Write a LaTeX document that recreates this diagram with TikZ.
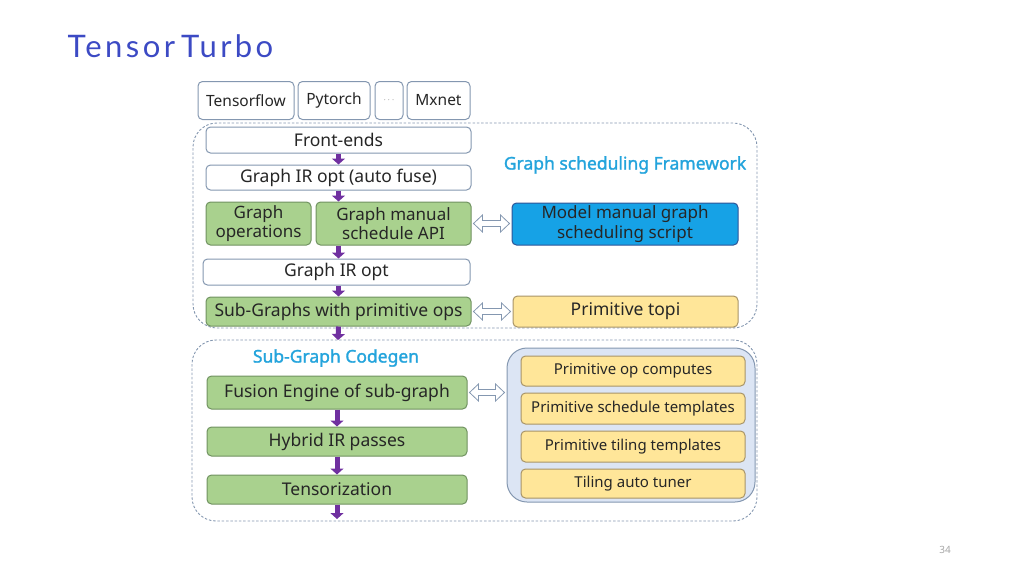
\documentclass[tikz,border=0pt]{standalone}
\usepackage{fontspec}
\setmainfont[AutoFakeBold=1.6]{Noto Sans}
\newfontfamily\titlefont[LetterSpace=11]{Lato}
\usetikzlibrary{arrows.meta,calc,positioning}
\definecolor{edgegray}{RGB}{132,151,176}
\definecolor{opgreen}{RGB}{169,209,142}
\definecolor{opgreenline}{RGB}{112,146,96}
\definecolor{scriptblue}{RGB}{22,162,230}
\definecolor{scriptline}{RGB}{47,85,151}
\definecolor{topiyellow}{RGB}{255,230,153}
\definecolor{topiline}{RGB}{168,148,104}
\definecolor{libblue}{RGB}{220,229,244}
\definecolor{titleblue}{RGB}{60,74,196}
\definecolor{labelcyan}{RGB}{36,164,220}
\definecolor{flowpurple}{RGB}{112,48,160}
\definecolor{textgray}{RGB}{38,38,38}
\tikzset{every picture/.style={
  >=Latex                       % LaTeX style arrows.
  }
}

\begin{document}
\begin{tikzpicture}[
    x=1pt,y=-1pt,
    font=\fontsize{17.5}{19}\selectfont,
    wh/.style 2 args={minimum width=#1pt,minimum height=#2pt},
    box/.style={
      draw=edgegray,
      line width=1pt,
      rounded corners=4.5pt,
      fill=white,
      text=textgray,
      inner sep=0pt,
      align=center
    },
    op/.style={box,fill=opgreen,draw=opgreenline},
    prim/.style={box,fill=topiyellow,draw=topiline},
    frame/.style={
      draw=edgegray,
      line width=0.9pt,
      dash pattern=on 2.5pt off 1.8pt,
      rounded corners=24pt,
      inner sep=0pt
    },
    heading/.style={
      text=labelcyan,
      font=\fontsize{17.5}{19}\selectfont\bfseries
    },
    flow/.style={
      draw=flowpurple,
      line width=5pt,
      -{Triangle[width=13pt,length=6pt]}
    },
    % hollow two-headed arrow from node to node
    link/.style={
      draw=edgegray,
      fill=white,
      line width=0.8pt,
      to path={
        let \p1=(\tikztostart), \p2=(\tikztotarget) in
        (\x1+2,\y1) -- (\x1+11,\y1+8.5) -- (\x1+11,\y1+3) --
        (\x2-11,\y1+3) -- (\x2-11,\y1+8.5) -- (\x2-2,\y1) --
        (\x2-11,\y1-8.5) -- (\x2-11,\y1-3) -- (\x1+11,\y1-3) --
        (\x1+11,\y1-8.5) -- cycle
      }
    }]

    % Helper macro.
    \def\flowto#1#2{\draw[flow] (#1) -- (#2);}

    \useasboundingbox (0,0) rectangle (1024,574);

    % Title.
    \node[anchor=west,text=titleblue,font=\titlefont\fontsize{31}{34}\selectfont]
      (title) at (64,46) {Tensor\hspace{6pt}Turbo};

    % Dashed frames (drawn first, under the boxes).
    \node[frame,wh={564}{205}] (gframe) at (475,225.5) {};
    \node[frame,wh={565}{181}] (cframe) at (474.5,430.5) {};

    % Frameworks on top.
    \begin{scope}[font=\fontsize{15.5}{17}\selectfont]
      \node[box,wh={96}{38}] (tf) at (246,100.5) {Tensorflow};
      \node[box,wh={72}{38}] (pt) at (334,100.5) {Pytorch};
      \node[box,wh={28}{38},text=black!60,font=\fontsize{9}{10}\selectfont]
        (dots) at (389,100.5) {$\cdots$};
      \node[box,wh={63}{38}] (mx) at (438.5,100.5) {Mxnet};
    \end{scope}

    % Graph scheduling framework.
    \node[heading] (gsf) at (625,165) {Graph scheduling Framework};
    \node[box,wh={265}{26}] (fe) at (338.5,140) {Front-ends};
    \node[box,wh={265}{25}] (irfuse) at (338.5,177.5) {Graph IR opt (auto fuse)};
    \node[op,wh={105}{43},font=\fontsize{17}{19.5}\selectfont]
      (gops) at (258.5,223.5) {Graph\\operations};
    \node[op,wh={155}{43},font=\fontsize{17}{19.5}\selectfont]
      (gapi) at (393.5,223.5) {Graph manual\\schedule API};
    \node[box,wh={267}{26}] (irmid) at (336.5,272) {Graph IR opt};
    \node[op,wh={265}{29}] (subg) at (338.5,311.5) {Sub-Graphs with primitive ops};
    \node[box,fill=scriptblue,draw=scriptline,wh={226}{42},
      font=\fontsize{17}{19.5}\selectfont] (script) at (625,224)
      {Model manual graph\\scheduling script};
    \node[prim,wh={225}{31}] (topi) at (625.5,311.5) {Primitive topi};

    % Sub-graph codegen.
    \node[heading] (sgc) at (336,358) {Sub-Graph Codegen};
    \node[op,wh={260}{33}] (fusion) at (337,392.5) {Fusion Engine of sub-graph};
    \node[op,wh={260}{29}] (hybrid) at (337,441.5) {Hybrid IR passes};
    \node[op,wh={260}{29}] (tensor) at (337,489.5) {Tensorization};

    % Library of primitives.
    \node[box,fill=libblue,rounded corners=20pt,wh={248}{154}] (lib) at (631,425) {};
    \begin{scope}[font=\fontsize{15}{17}\selectfont]
      \node[prim,wh={224}{30}] (pcomp) at (633,371) {Primitive op computes};
      \node[prim,wh={224}{31}] (psched) at (633,408.5) {Primitive schedule templates};
      \node[prim,wh={224}{31}] (ptile) at (633,446.5) {Primitive tiling templates};
      \node[prim,wh={224}{29}] (ptuner) at (633,483.5) {Tiling auto tuner};
    \end{scope}

    % Flow between the stages.
    \coordinate (gout) at (338,340);
    \coordinate (cout) at (337,519);
    \flowto{fe.south}{irfuse.north}
    \flowto{irfuse.south}{irfuse.south |- gapi.north}
    \flowto{irfuse.south |- gapi.south}{irfuse.south |- irmid.north}
    \flowto{irmid.south -| fe.south}{fe.south |- subg.north}
    \flowto{subg.south}{gout}
    \flowto{fusion.south}{hybrid.north}
    \flowto{hybrid.south}{tensor.north}
    \flowto{tensor.south}{cout}

    % Links to the scripts and primitives.
    \draw[link] (gapi.east) to (script.west);
    \draw[link] (subg.east) to (topi.west);
    \draw[link] (fusion.east) to (fusion.east -| lib.west);

    % Page number.
    \node[text=black!35,font=\fontsize{10}{12}\selectfont] (page) at (945,550) {34};
\end{tikzpicture}
\end{document}
